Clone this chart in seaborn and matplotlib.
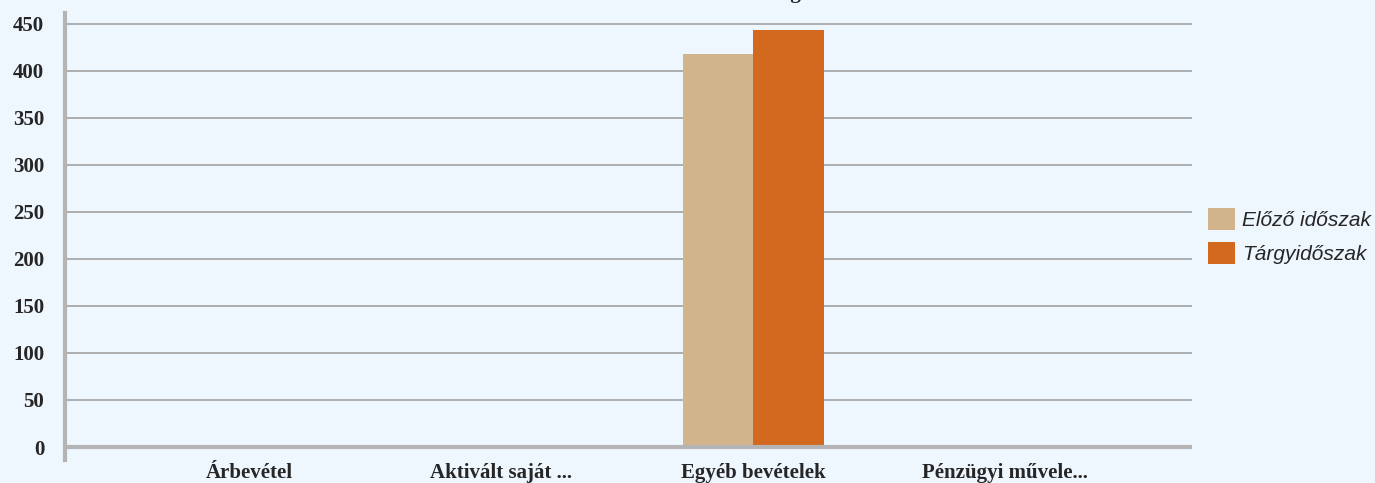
import matplotlib.pyplot as plt
import seaborn as sns
import pandas as pd

categories = ['Árbevétel', 'Aktivált saját ...', 'Egyéb bevételek', 'Pénzügyi művele...']
series_names = ['Előző időszak', 'Tárgyidőszak']
elozo = [0, 0, 418, 0]
targy = [0, 0, 443, 0]
yticks = [0, 50, 100, 150, 200, 250, 300, 350, 400, 450]
title = 'Bevételek alakulása és megoszlása'

bg = '#EEF6FE'
colors = ['#D2B48C', '#D2691E']

df = pd.DataFrame({
    'cat': categories * 2,
    'series': [series_names[0]] * 4 + [series_names[1]] * 4,
    'value': elozo + targy,
})

sns.set_theme(style='white')
plt.rcParams['font.family'] = ['Liberation Serif', 'DejaVu Serif']

fig = plt.figure(figsize=(13.75, 4.83), dpi=100, facecolor=bg)
ax = fig.add_axes([65 / 1375, 1 - 460 / 483, (1192 - 65) / 1375, (460 - 13) / 483])
ax.set_facecolor(bg)

sns.barplot(data=df, x='cat', y='value', hue='series', palette=colors,
            width=0.56, gap=0, saturation=1, ax=ax, legend=True)

ax.set_xlim(-0.73, 3.74)
ax.set_ylim(-13.8, 461.5)
ax.set_yticks(yticks)
ax.set_yticklabels([str(v) for v in yticks], fontsize=15, fontweight='bold')
ax.set_xticks(range(len(categories)))
ax.set_xticklabels(categories, fontsize=15, fontweight='bold')
ax.tick_params(axis='x', length=0, pad=2)
ax.tick_params(axis='y', length=10, width=1.3, color='#A8A8A8', pad=5)
ax.set_xlabel('')
ax.set_ylabel('')

for v in yticks[1:]:
    ax.axhline(v, color='#A8A8A8', linewidth=1.3, zorder=0)
ax.axhline(0, color='#B4B4B4', linewidth=3, zorder=3)

for s in ['top', 'right', 'bottom']:
    ax.spines[s].set_visible(False)
ax.spines['left'].set_color('#B4B4B4')
ax.spines['left'].set_linewidth(3)

for p in ax.patches:
    p.set_edgecolor('none')

handles, labels = ax.get_legend_handles_labels()
ax.legend(handles, labels, loc='center left', bbox_to_anchor=(1200 / 1375, 1 - 236 / 483),
          bbox_transform=fig.transFigure, frameon=False, handlelength=1.3, handleheight=1.3,
          handletextpad=0.3, labelspacing=0.55, borderaxespad=0,
          prop={'family': ['Liberation Sans', 'DejaVu Sans'], 'style': 'italic', 'size': 15})

# title sits mostly above the figure edge, as in the reference
fig.text(712 / 1375, 1 + 2 / 483, title, ha='center', va='baseline',
         fontsize=15, fontweight='bold')

fig.savefig('out.png', dpi=100, facecolor=bg)
